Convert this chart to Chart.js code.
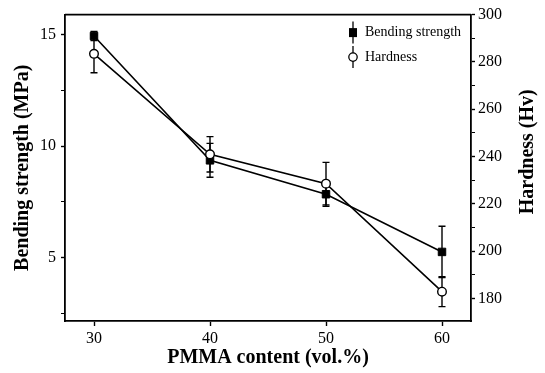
<!DOCTYPE html>
<html><head><meta charset="utf-8">
<script src="https://cdn.jsdelivr.net/npm/chart.js@4/dist/chart.umd.min.js"></script>
<style>html,body{margin:0;padding:0;background:#fff}#wrap{width:545px;height:373px;position:relative}</style>
</head><body><div id="wrap"><canvas id="c" width="545" height="373"></canvas></div>
<script>
const pmmaContent = [30, 40, 50, 60];
const bendingStrength = [14.94, 9.36, 7.84, 5.25];
const bendingErr = [0.2, 0.76, 0.54, 1.15];
const hardness = [283.4, 240.9, 228.5, 182.8];
const hardnessErr = [8, 7.5, 9, 6.3];
const xTicks = [30, 40, 50, 60];
const leftTicks = [2.5, 5, 7.5, 10, 12.5, 15];
const leftLabels = [5, 10, 15];
const rightTicks = [180, 190, 200, 210, 220, 230, 240, 250, 260, 270, 280, 290, 300];
const rightLabels = [180, 200, 220, 240, 260, 280, 300];

const FONT = "'Liberation Serif', 'Times New Roman', serif";

const errorBars = {
  id: 'errorBars',
  beforeDatasetsDraw(chart) {
    const ctx = chart.ctx;
    const xs = chart.scales.x;
    ctx.save();
    ctx.strokeStyle = '#000';
    ctx.lineWidth = 1.4;
    chart.data.datasets.forEach(ds => {
      const ys = chart.scales[ds.yAxisID];
      ds.values.forEach((v, j) => {
        const e = ds.errors[j];
        const x = xs.getPixelForValue(pmmaContent[j]);
        const yt = ys.getPixelForValue(v + e);
        const yb = ys.getPixelForValue(v - e);
        ctx.beginPath();
        ctx.moveTo(x, yt); ctx.lineTo(x, yb);
        ctx.moveTo(x - 3.5, yt); ctx.lineTo(x + 3.5, yt);
        ctx.moveTo(x - 3.5, yb); ctx.lineTo(x + 3.5, yb);
        ctx.stroke();
      });
    });
    ctx.restore();
  }
};

const frameAndLegend = {
  id: 'frameAndLegend',
  afterDraw(chart) {
    const ctx = chart.ctx;
    const a = chart.chartArea;
    ctx.save();
    ctx.strokeStyle = '#000';
    ctx.lineWidth = 1.8;
    ctx.beginPath();
    ctx.moveTo(a.left, a.top); ctx.lineTo(a.right, a.top);
    ctx.stroke();
    // legend
    const lx = a.right - 118;
    const items = chart.data.datasets;
    items.forEach((ds, i) => {
      const ly = a.top + 18 + i * 24.5;
      ctx.lineWidth = 1.3;
      ctx.beginPath();
      ctx.moveTo(lx, ly - 11); ctx.lineTo(lx, ly + 11);
      ctx.stroke();
      if (ds.pointStyle === 'rect') {
        ctx.fillStyle = '#000';
        ctx.fillRect(lx - 4, ly - 4.5, 8, 9);
      } else {
        ctx.beginPath();
        ctx.arc(lx, ly, 4.2, 0, Math.PI * 2);
        ctx.fillStyle = '#fff';
        ctx.fill();
        ctx.lineWidth = 1.3;
        ctx.stroke();
      }
      ctx.fillStyle = '#000';
      ctx.font = "14px " + FONT;
      ctx.textBaseline = 'middle';
      ctx.textAlign = 'left';
      ctx.fillText(ds.label, lx + 12, ly);
    });
    // right axis title (reads bottom to top)
    const ys = chart.scales.yR;
    ctx.save();
    ctx.translate(ys.right - 17, (a.top + a.bottom) / 2 - 16);
    ctx.rotate(-Math.PI / 2);
    ctx.font = "bold 20px " + FONT;
    ctx.textAlign = 'center';
    ctx.textBaseline = 'middle';
    ctx.fillStyle = '#000';
    ctx.fillText('Hardness (Hv)', 0, 0);
    ctx.restore();
    ctx.restore();
  }
};

const tickFont = { family: FONT, size: 16 };
const titleFont = { family: FONT, size: 20, weight: 'bold' };

new Chart(document.getElementById('c'), {
  type: 'line',
  data: {
    datasets: [
      {
        label: 'Bending strength',
        data: pmmaContent.map((x, i) => ({ x, y: bendingStrength[i] })),
        values: bendingStrength, errors: bendingErr,
        yAxisID: 'yL', order: 1,
        borderColor: '#000', borderWidth: 1.6, tension: 0,
        pointStyle: 'rect', pointRadius: 5.3,
        pointBackgroundColor: '#000', pointBorderColor: '#000', pointBorderWidth: 1
      },
      {
        label: 'Hardness',
        data: pmmaContent.map((x, i) => ({ x, y: hardness[i] })),
        values: hardness, errors: hardnessErr,
        yAxisID: 'yR', order: 0,
        borderColor: '#000', borderWidth: 1.6, tension: 0,
        pointStyle: 'circle', pointRadius: 4.3,
        pointBackgroundColor: '#fff', pointBorderColor: '#000', pointBorderWidth: 1.4
      }
    ]
  },
  options: {
    responsive: false, devicePixelRatio: 1, animation: false,
    layout: { padding: { top: 13.5, left: 0, right: 0, bottom: 0 } },
    plugins: { legend: { display: false }, tooltip: { enabled: false } },
    scales: {
      x: {
        type: 'linear', position: 'bottom', min: 27.5, max: 62.5,
        afterBuildTicks: s => { s.ticks = xTicks.map(v => ({ value: v })); },
        afterFit: s => { s.height = 52; },
        grid: { drawOnChartArea: false, tickLength: 5, tickColor: '#000', tickWidth: 1.4 },
        border: { color: '#000', width: 1.8 },
        ticks: { font: tickFont, color: '#000', padding: 3, autoSkip: false, maxRotation: 0 },
        title: { display: true, text: 'PMMA content (vol.%)', font: titleFont, color: '#000', padding: { top: 0, bottom: 3.2 } }
      },
      yL: {
        type: 'linear', position: 'left', min: 2.15, max: 15.9,
        afterBuildTicks: s => { s.ticks = leftTicks.map(v => ({ value: v })); },
        afterFit: s => { s.width = 65; },
        grid: { drawOnChartArea: false, tickLength: 4, tickColor: '#000',
                tickWidth: c => leftLabels.includes(c.tick && c.tick.value) ? 1.4 : 1 },
        border: { color: '#000', width: 1.8 },
        ticks: { font: tickFont, color: '#000', padding: 5,
                 callback: v => leftLabels.includes(v) ? String(v) : '' },
        title: { display: true, text: 'Bending strength (MPa)', font: titleFont, color: '#000', padding: { top: 10.5, bottom: 0 } }
      },
      yR: {
        type: 'linear', position: 'right', min: 170.4, max: 300,
        afterBuildTicks: s => { s.ticks = rightTicks.map(v => ({ value: v })); },
        afterFit: s => { s.width = 74; },
        grid: { drawOnChartArea: false, tickLength: 4, tickColor: '#000',
                tickWidth: c => rightLabels.includes(c.tick && c.tick.value) ? 1.4 : 1 },
        border: { color: '#000', width: 1.8 },
        ticks: { font: tickFont, color: '#000', padding: 3,
                 callback: v => rightLabels.includes(v) ? String(v) : '' }
      }
    }
  },
  plugins: [errorBars, frameAndLegend]
});
</script>
</body></html>
